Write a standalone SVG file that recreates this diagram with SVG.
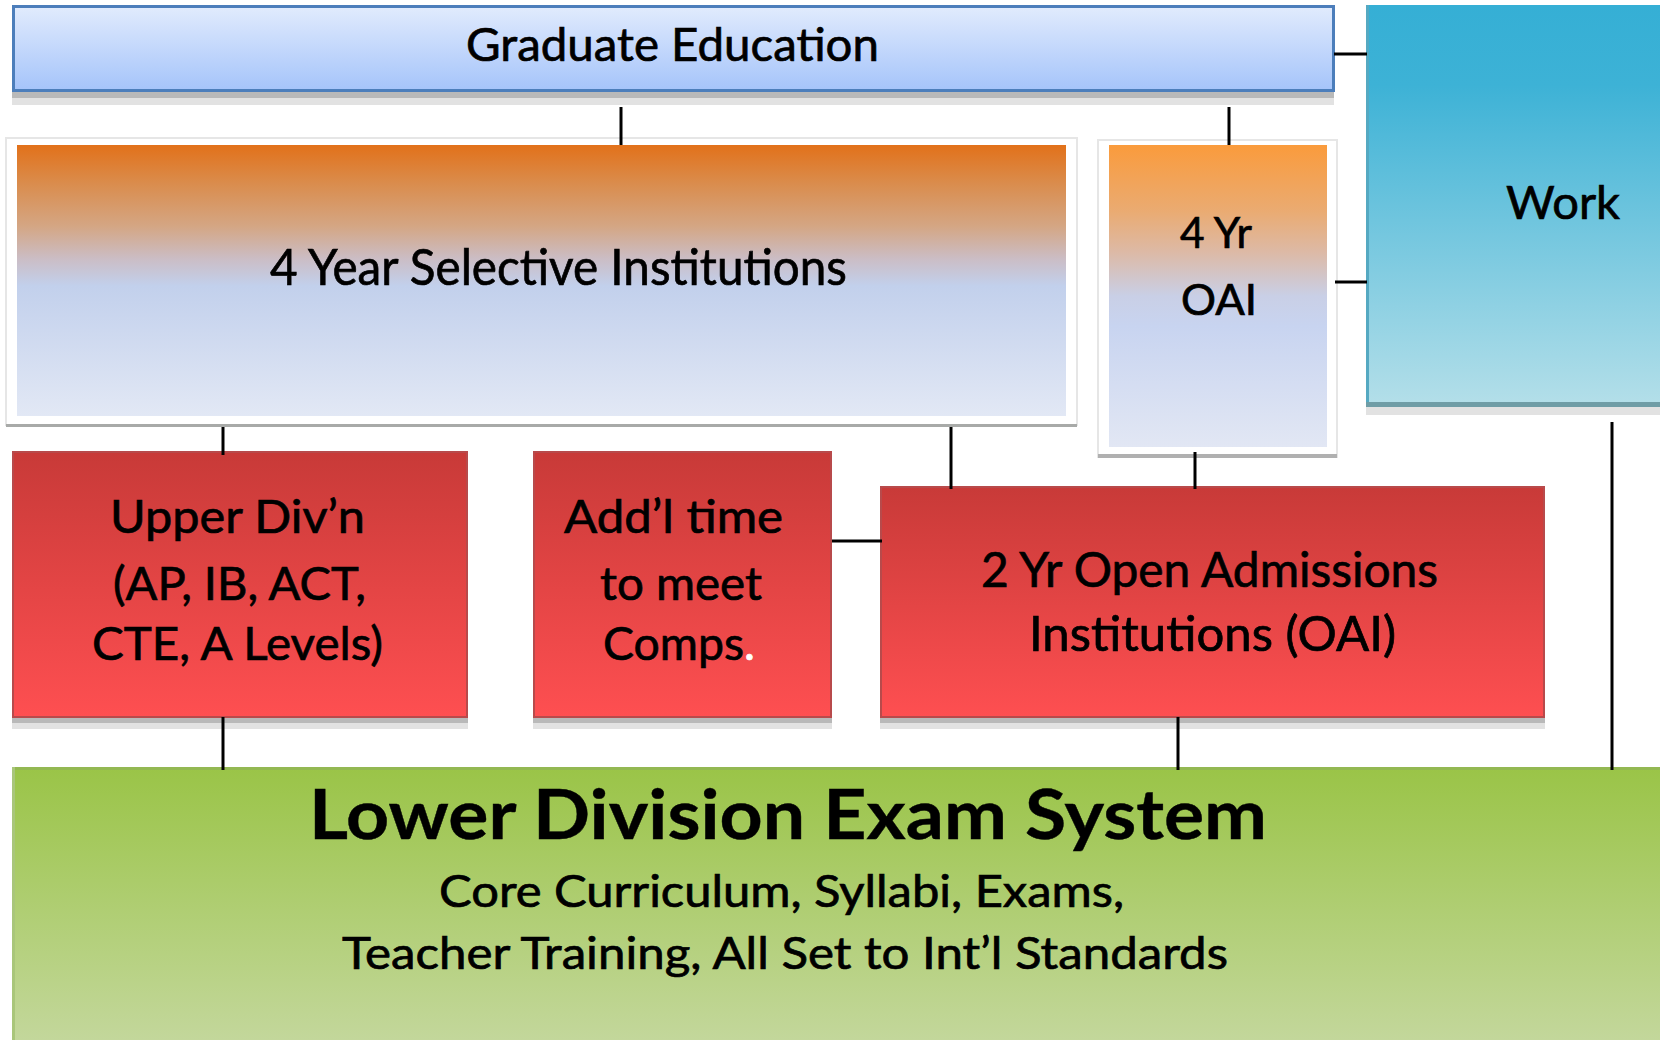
<svg xmlns="http://www.w3.org/2000/svg" width="1660" height="1040" viewBox="0 0 1660 1040">
  <defs>
    <linearGradient id="gBlue" x1="0" y1="0" x2="0" y2="1">
      <stop offset="0" stop-color="#e1ebfd"/>
      <stop offset="1" stop-color="#a5c4fa"/>
    </linearGradient>
    <linearGradient id="gSel" x1="0" y1="0" x2="0" y2="1">
      <stop offset="0" stop-color="#e2711a"/>
      <stop offset="0.14" stop-color="#da8c4c"/>
      <stop offset="0.3" stop-color="#d4a684"/>
      <stop offset="0.42" stop-color="#cbbdc5"/>
      <stop offset="0.52" stop-color="#c2d0ec"/>
      <stop offset="1" stop-color="#e2e8f5"/>
    </linearGradient>
    <linearGradient id="gOai" x1="0" y1="0" x2="0" y2="1">
      <stop offset="0" stop-color="#fa9b3c"/>
      <stop offset="0.22" stop-color="#eaab72"/>
      <stop offset="0.36" stop-color="#dcbaa8"/>
      <stop offset="0.5" stop-color="#c9cfe6"/>
      <stop offset="0.6" stop-color="#c8d4f0"/>
      <stop offset="1" stop-color="#e2e7f4"/>
    </linearGradient>
    <linearGradient id="gWork" x1="0" y1="0" x2="0" y2="1">
      <stop offset="0" stop-color="#35afd5"/>
      <stop offset="0.2" stop-color="#3db2d6"/>
      <stop offset="1" stop-color="#b4dfe9"/>
    </linearGradient>
    <linearGradient id="gRed" x1="0" y1="0" x2="0" y2="1">
      <stop offset="0" stop-color="#c83a38"/>
      <stop offset="1" stop-color="#fe4f51"/>
    </linearGradient>
    <linearGradient id="gGreen" x1="0" y1="0" x2="0" y2="1">
      <stop offset="0" stop-color="#9ac447"/>
      <stop offset="1" stop-color="#c3d79b"/>
    </linearGradient>
  </defs>
  <style>
    .t { font-family: Lato, "Liberation Sans", sans-serif; fill: #000; stroke: #000; stroke-width: 0.7; }
    .b { font-weight: bold; stroke-width: 0.4; }
    .shadow { fill: #b9b9b9; }
    .shadow2 { fill: #e2e2e2; }
    .frame { fill: #ffffff; stroke: #e6e6e6; stroke-width: 2; }
    .red { fill: url(#gRed); stroke: #b84a4b; stroke-width: 2; }
    .conn line { stroke: #000; stroke-width: 3; }
  </style>

  <rect width="1660" height="1040" fill="#ffffff"/>

  <!-- Graduate Education -->
  <g id="graduate">
    <rect class="shadow2" x="12" y="92" width="1322" height="13"/>
    <rect class="shadow" x="12" y="92" width="1322" height="6"/>
    <rect x="13.5" y="6.5" width="1320" height="84" fill="url(#gBlue)" stroke="#4c7ebb" stroke-width="3"/>
    <text class="t" x="466" y="61" font-size="47" textLength="413" lengthAdjust="spacingAndGlyphs">Graduate Education</text>
  </g>

  <!-- Work -->
  <g id="work">
    <rect class="shadow2" x="1366" y="405" width="294" height="10"/>
    <rect x="1367" y="5" width="293" height="401" fill="url(#gWork)"/>
    <rect x="1366" y="5" width="3" height="401" fill="#55a9c2"/>
    <rect x="1366" y="402" width="294" height="5" fill="#6f9da6"/>
    <text class="t" x="1506" y="219" font-size="47" textLength="114" lengthAdjust="spacingAndGlyphs">Work</text>
  </g>

  <!-- 4 Year Selective Institutions -->
  <g id="selective">
    <rect class="frame" x="6" y="138" width="1071" height="287"/>
    <rect x="6" y="424" width="1071" height="3" fill="#a8aaa8"/>
    <rect x="17" y="145" width="1049" height="271" fill="url(#gSel)"/>
    <text class="t" x="270" y="285" font-size="50" textLength="577" lengthAdjust="spacingAndGlyphs">4 Year Selective Institutions</text>
  </g>

  <!-- 4 Yr OAI -->
  <g id="oai4">
    <rect class="frame" x="1098" y="140" width="239" height="317"/>
    <rect x="1098" y="454" width="239" height="4" fill="#b0b0b0"/>
    <rect x="1109" y="145" width="218" height="302" fill="url(#gOai)"/>
    <text class="t" x="1180" y="248" font-size="42" textLength="72" lengthAdjust="spacingAndGlyphs">4 Yr</text>
    <text class="t" x="1181" y="315" font-size="42" textLength="76" lengthAdjust="spacingAndGlyphs">OAI</text>
  </g>

  <!-- Upper Division -->
  <g id="upper">
    <rect class="shadow2" x="12" y="717" width="456" height="12"/>
    <rect class="shadow" x="12" y="717" width="456" height="6"/>
    <rect class="red" x="13" y="452" width="454" height="265"/>
    <text class="t" x="110" y="533" font-size="46" textLength="255" lengthAdjust="spacingAndGlyphs">Upper Div’n</text>
    <text class="t" x="113" y="600" font-size="46" textLength="253" lengthAdjust="spacingAndGlyphs">(AP, IB, ACT,</text>
    <text class="t" x="92" y="660" font-size="46" textLength="291" lengthAdjust="spacingAndGlyphs">CTE, A Levels)</text>
  </g>

  <!-- Additional time -->
  <g id="addl">
    <rect class="shadow2" x="533" y="717" width="299" height="12"/>
    <rect class="shadow" x="533" y="717" width="299" height="6"/>
    <rect class="red" x="534" y="452" width="297" height="265"/>
    <text class="t" x="564" y="533" font-size="46" textLength="219" lengthAdjust="spacingAndGlyphs">Add’l time</text>
    <text class="t" x="600" y="600" font-size="46" textLength="162" lengthAdjust="spacingAndGlyphs">to meet</text>
    <text class="t" x="603" y="660" font-size="46" textLength="152" lengthAdjust="spacingAndGlyphs">Comps<tspan fill="#ffffff" stroke="#ffffff">.</tspan></text>
  </g>

  <!-- 2 Yr Open Admissions Institutions -->
  <g id="oai2">
    <rect class="shadow2" x="880" y="717" width="665" height="12"/>
    <rect class="shadow" x="880" y="717" width="665" height="6"/>
    <rect class="red" x="881" y="487" width="663" height="230"/>
    <text class="t" x="981" y="587" font-size="48" textLength="457" lengthAdjust="spacingAndGlyphs">2 Yr Open Admissions</text>
    <text class="t" x="1029" y="651" font-size="48" textLength="367" lengthAdjust="spacingAndGlyphs">Institutions (OAI)</text>
  </g>

  <!-- Lower Division Exam System -->
  <g id="lower">
    <rect x="12" y="767" width="1648" height="273" fill="url(#gGreen)"/>
    <rect x="12" y="767" width="1648" height="3" fill="#93b852"/>
    <rect x="12" y="767" width="3" height="273" fill="#a9c67a"/>
    <text class="t b" x="309" y="839" font-size="68" textLength="958" lengthAdjust="spacingAndGlyphs">Lower Division Exam System</text>
    <text class="t" x="439" y="907" font-size="44" textLength="685" lengthAdjust="spacingAndGlyphs">Core Curriculum, Syllabi, Exams,</text>
    <text class="t" x="342" y="969" font-size="44" textLength="886" lengthAdjust="spacingAndGlyphs">Teacher Training, All Set to Int’l Standards</text>
  </g>

  <!-- connectors -->
  <g id="connectors" class="conn">
    <line x1="1334" y1="54" x2="1367" y2="54"/>
    <line x1="621" y1="107" x2="621" y2="145"/>
    <line x1="1229" y1="107" x2="1229" y2="145"/>
    <line x1="1335" y1="282" x2="1367" y2="282"/>
    <line x1="223" y1="427" x2="223" y2="455"/>
    <line x1="951" y1="427" x2="951" y2="489"/>
    <line x1="1195" y1="452" x2="1195" y2="489"/>
    <line x1="832" y1="541" x2="882" y2="541"/>
    <line x1="223" y1="717" x2="223" y2="770"/>
    <line x1="1178" y1="717" x2="1178" y2="770"/>
    <line x1="1612" y1="422" x2="1612" y2="770"/>
  </g>
</svg>
